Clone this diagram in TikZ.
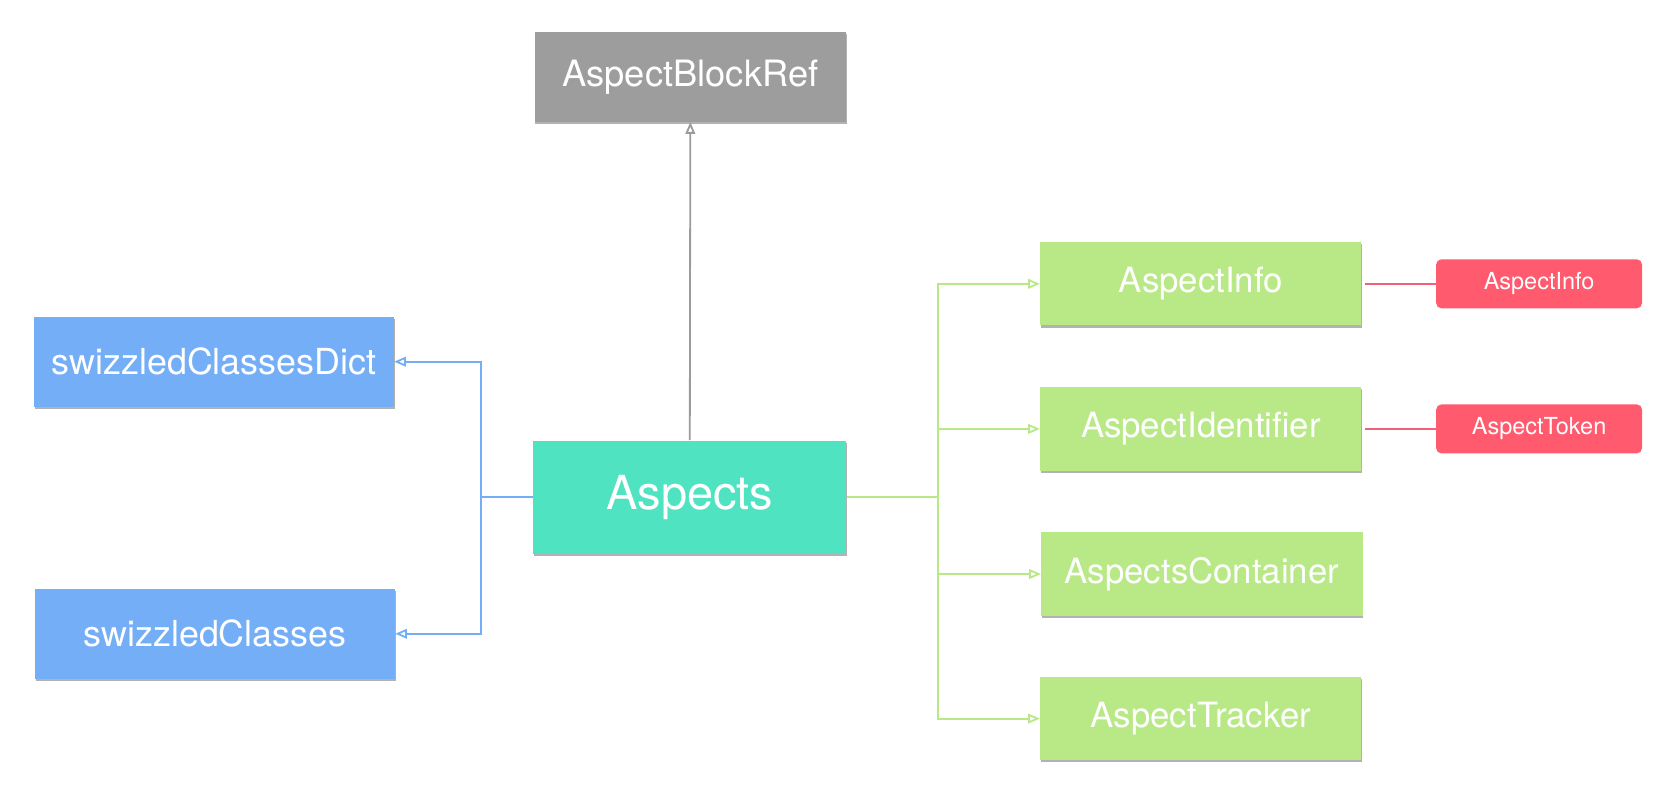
\documentclass[tikz,border=0pt]{standalone}
\usepackage{fontspec}
\setmainfont{TeX Gyre Heros}
\usetikzlibrary{arrows.meta,shadows}
\definecolor{cgray}{HTML}{9B9B9B}
\definecolor{cteal}{HTML}{50E3C2}
\definecolor{cblue}{HTML}{74AEF6}
\definecolor{cgreen}{HTML}{B8E986}
\definecolor{cred}{HTML}{FF5A6E}
\definecolor{credline}{HTML}{F06277}
\tikzset{
  box/.style={rectangle, inner sep=0pt, text=white, align=center,
    drop shadow={shadow xshift=0.4pt, shadow yshift=-1pt, fill=black, opacity=0.3}},
  graybox/.style={box, fill=cgray!98!white, minimum width=146pt, minimum height=42pt, font=\fontsize{17}{20}\selectfont},
  tealbox/.style={box, fill=cteal, minimum width=146.5pt, minimum height=53pt, font=\fontsize{22}{26}\selectfont},
  bluebox/.style={box, fill=cblue, minimum width=168.5pt, minimum height=42pt, font=\fontsize{16.8}{20}\selectfont},
  greenbox/.style={box, fill=cgreen, minimum width=150.5pt, minimum height=39pt, font=\fontsize{16.3}{19}\selectfont},
  redbox/.style={rectangle, rounded corners=2.5pt, inner sep=0pt, text=white, fill=cred, minimum width=96.5pt, minimum height=23pt, font=\fontsize{11}{13}\selectfont},
  tip/.style={-{Triangle[open,length=5.5pt,width=4.5pt]}},
  grayline/.style={draw=cgray, line width=0.85pt},
  blueline/.style={draw=cblue, line width=0.85pt},
  greenline/.style={draw=cgreen, line width=0.85pt},
  redline/.style={draw=credline, line width=0.85pt},
}
\begin{document}
\begin{tikzpicture}[x=0.5pt,y=-0.5pt]
\useasboundingbox[fill=white] (0,0) rectangle (1568,747);
\node[graybox] (ref) at (647,72) {AspectBlockRef};
\node[tealbox] (asp) at (646.5,466) {Aspects};
\node[bluebox] (dict) at (200.5,339) {swizzledClassesDict};
\node[bluebox] (cls) at (201.5,594) {swizzledClasses};
\node[greenbox] (info) at (1125.5,266) {AspectInfo};
\node[greenbox] (ident) at (1125.5,402) {AspectIdentifier};
\node[greenbox] (cont) at (1126.5,538) {AspectsContainer};
\node[greenbox] (track) at (1125.5,673.5) {AspectTracker};
\node[redbox] (rinfo) at (1442.5,266) {AspectInfo};
\node[redbox] (rtok) at (1442.5,402) {AspectToken};
\coordinate (bj) at (451,466);
\coordinate (gj) at (879,466);
\draw[grayline, tip] (asp.north) -- (ref.south);
\draw[blueline] (asp.west) -- (bj);
\draw[blueline, tip] (bj) |- (dict.east);
\draw[blueline, tip] (bj) |- (cls.east);
\draw[greenline] (asp.east) -- (gj);
\draw[greenline, tip] (gj) |- (info.west);
\draw[greenline, tip] (gj) |- (ident.west);
\draw[greenline, tip] (gj) |- (cont.west);
\draw[greenline, tip] (gj) |- (track.west);
\draw[redline] ([xshift=1.5pt]info.east) -- (rinfo.west);
\draw[redline] ([xshift=1.5pt]ident.east) -- (rtok.west);
\end{tikzpicture}
\end{document}
